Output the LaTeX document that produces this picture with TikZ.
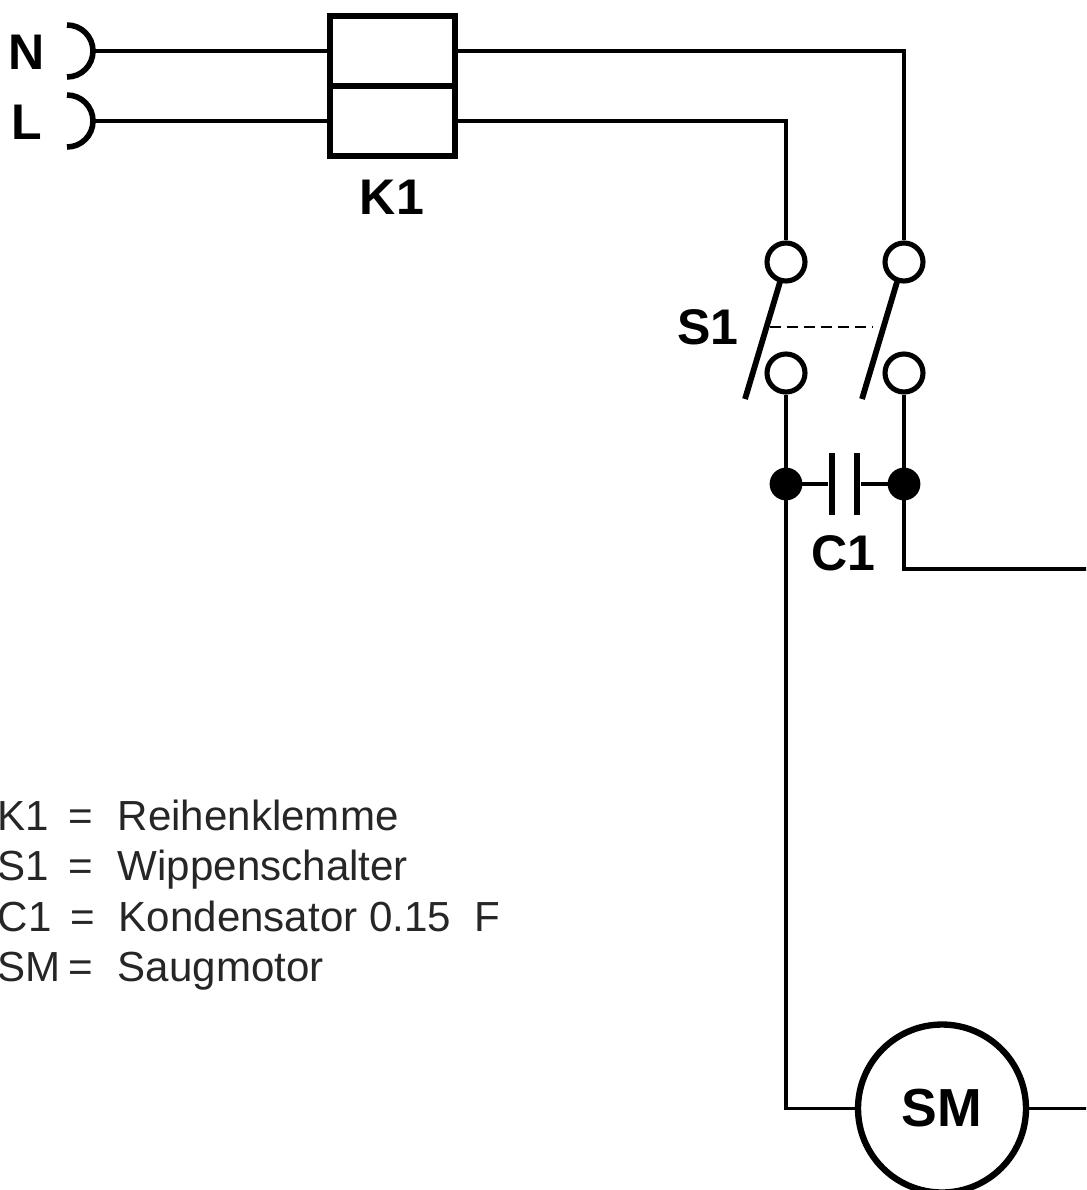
\documentclass[tikz,border=0pt]{standalone}
\usepackage{fontspec}
\setmainfont{Liberation Sans}

\tikzset{
  wire/.style={line width=1.8pt},
  thick line/.style={line width=3.2pt},
  blade/.style={line width=3.3pt},
  klemme/.style={draw,line width=3.6pt,minimum width=2.5cm,minimum height=1.4cm,inner sep=0pt},
  contact/.style={draw,circle,fill=white,line width=2.9pt,minimum size=.76cm,inner sep=0pt},
  junction/.style={draw,circle,fill=black,minimum size=.62cm,inner sep=0pt},
  plate/.style={fill=black,minimum width=.13cm,minimum height=1.26cm,inner sep=0pt},
  motor/.style={draw,circle,line width=3.6pt,minimum size=3.36cm,inner sep=0pt,font=\bfseries\fontsize{30.5}{32}\selectfont},
  tag/.style={font=\bfseries\fontsize{28.5}{30}\selectfont,inner sep=0pt},
  legend/.style={anchor=base west,font=\fontsize{23.95}{26}\selectfont,text=black!85,inner sep=0pt}
}

\begin{document}
\begin{tikzpicture}[
                x=.02cm,y=.02cm,
                line width=1pt] %

\clip (0,0) rectangle (1086,-1190);

% mains
\node[tag] (N) at (27,-52) {N};
\node[tag] (L) at (27,-122) {L};
\draw[thick line] (67,-25) arc (90:-90:26);
\draw[thick line] (67,-95) arc (90:-90:26);
\coordinate (Nplug) at (93,-51);
\coordinate (Lplug) at (93,-121);

% K1
\node[klemme] (K1top) at (392.5,-51) {};
\node[klemme] (K1bot) at (392.5,-121) {};
\node[tag] (K1) at (392,-197) {K1};
\draw[wire] (Nplug) -- (K1top);
\draw[wire] (Lplug) -- (K1bot);

% S1
\node[contact] (S1lt) at (786,-262) {};
\node[contact] (S1rt) at (904,-262) {};
\node[contact] (S1lb) at (786,-373) {};
\node[contact] (S1rb) at (904,-373) {};
\node[tag] (S1) at (708,-327) {S1};
\draw[wire] (K1top.east) -| (S1rt.north);
\draw[wire] (K1bot.east) -| (S1lt.north);
\draw[blade] (780,-282) coordinate (S1la) -- (745,-399) coordinate (S1lc);
\draw[blade] (897,-282) coordinate (S1ra) -- (862,-399) coordinate (S1rc);
\coordinate (S1lm) at (770,-327);
\coordinate (S1rm) at (873,-327);
\draw[line width=1.4pt,dash pattern=on 6.2pt off 3.5pt] (S1lm) -- (S1rm);

% C1
\node[junction] (C1l) at (786,-484) {};
\node[junction] (C1r) at (904,-484) {};
\node[plate] (C1a) at (832,-484) {};
\node[plate] (C1b) at (857,-484) {};
\node[tag] (C1) at (843,-553) {C1};
\draw[wire] (S1lb) -- (C1l);
\draw[wire] (S1rb) -- (C1r);
\draw[line width=2.4pt] (C1l) -- (C1a);
\draw[line width=2.4pt] (C1r) -- (C1b);

% SM
\node[motor] (SM) at (942,-1108.5) {SM};
\coordinate (Eout) at (1090,-569);
\coordinate (SMout) at (1090,-1108.5);
\draw[wire] (C1l) |- (SM.west);
\draw[wire] (C1r) |- (Eout);
\draw[wire] (SM.east) -- (SMout);

% legend
\node[legend] (k1name) at (-3,-830) {K1};
\node[legend] (k1eq) at (68,-830) {=};
\node[legend] (k1text) at (117,-830) {Reihenklemme};
\node[legend] (s1name) at (-3,-880) {S1};
\node[legend] (s1eq) at (68,-880) {=};
\node[legend] (s1text) at (117,-880) {Wippenschalter};
\node[legend] (c1name) at (-3,-931) {C1};
\node[legend] (c1eq) at (70,-931) {=};
\node[legend] (c1text) at (118,-931) {Kondensator 0.15\hspace{.55em}F};
\node[legend] (smname) at (-3,-981) {SM};
\node[legend] (smeq) at (68,-981) {=};
\node[legend] (smtext) at (117,-981) {Saugmotor};

\end{tikzpicture}
\end{document}
